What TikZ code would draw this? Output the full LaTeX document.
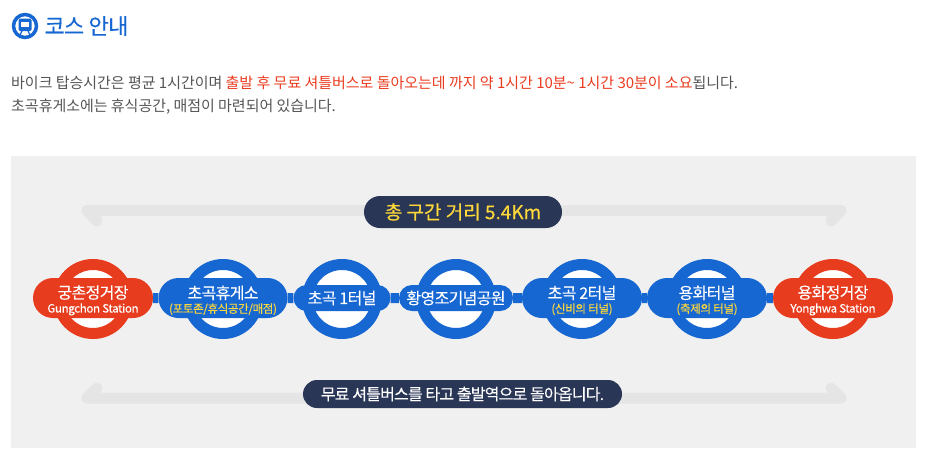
\documentclass[tikz,border=0pt]{standalone}
\usepackage{fontspec}
\setmainfont{Noto Sans CJK KR}
\usetikzlibrary{positioning, shapes.misc, backgrounds}
\definecolor{routered}{HTML}{E83C1E}
\definecolor{routeblue}{HTML}{1767D2}
\definecolor{routenavy}{HTML}{2A3656}
\definecolor{bodygray}{HTML}{555555}
\definecolor{notered}{HTML}{EA3C20}
\definecolor{subyellow}{HTML}{FFD83A}
\newcommand{\topline}[1]{\rule{0pt}{18pt}#1}
\newcommand{\subline}[1]{{\fontsize{11.5}{12}\selectfont\addfontfeatures{LetterSpace=-3,FakeBold=0.15}#1}}

\begin{document}
\begin{tikzpicture}[
    x=1pt, y=-1pt,
    node distance=40pt,
    ring/.style={circle, draw=#1, line width=11pt, fill=white, minimum size=69pt, inner sep=0pt},
    pill/.style={rounded rectangle, fill=#1, text=white, inner sep=0pt, minimum height=40pt, minimum width=120pt, align=center, font=\fontsize{16}{17}\selectfont\addfontfeatures{LetterSpace=-4,FakeBold=0.2}},
    slim/.style={minimum height=26pt},
    routeline/.style={routeblue, line width=10pt},
    backarrow/.style={draw=black!10, line width=11pt, line cap=round, line join=round},
    banner/.style={rounded rectangle, fill=routenavy, inner sep=0pt, align=center},
    bodytext/.style={anchor=west, inner sep=0pt, text=bodygray, font=\fontsize{15}{17}\selectfont\addfontfeatures{LetterSpace=-0.2}}
]
\useasboundingbox (0,0) rectangle (926,459);

% Heading
\node[circle, draw=routeblue, line width=3.5pt, fill=white, minimum size=23pt, inner sep=0pt] (icon) at (25,26) {};
\fill[routeblue, rounded corners=1.5pt] (18.5,18.5) rectangle (31.5,31);
\fill[white] (21,22) rectangle (29,26.5);
\draw[routeblue, line width=1.2pt] (20,35) -- (22,31) (30,35) -- (28,31);
\node[anchor=west, inner sep=0pt, text=routeblue, font=\fontsize{22}{24}\selectfont\addfontfeatures{LetterSpace=-3,FakeBold=0.2}, right=6pt of icon] (heading) {코스 안내};

% Intro text
\node[bodytext] (intro1) at (11,83) {바이크 탑승시간은 평균 1시간이며 \textcolor{notered}{출발 후 무료 셔틀버스로 돌아오는데 까지 약 1시간 10분\textasciitilde{} 1시간 30분이 소요}됩니다.};
\node[bodytext] (intro2) at (11,107) {초곡휴게소에는 휴식공간, 매점이 마련되어 있습니다.};

% Stations
\node[ring=routered] (ring1) at (93,299) {};
\node[ring=routeblue, right=50pt of ring1] (ring2) {};
\node[ring=routeblue, right=39pt of ring2] (ring3) {};
\node[ring=routeblue, right=34pt of ring3] (ring4) {};
\node[ring=routeblue, right=46pt of ring4] (ring5) {};
\node[ring=routeblue, right=45pt of ring5] (ring6) {};
\node[ring=routered, right=46pt of ring6] (ring7) {};

\node[pill=routered, yshift=1pt] (gungchon) at (ring1) {\topline{궁촌정거장}\\[-3pt]\subline{Gungchon Station}};
\node[pill=routeblue, minimum width=129pt, yshift=1pt] (rest) at (ring2) {\topline{초곡휴게소}\\[-3pt]\subline{\color{subyellow}(포토존/휴식공간/매점)}};
\node[pill=routeblue, slim, minimum width=97pt, yshift=1pt] (tunnel1) at (ring3) {초곡 1터널};
\node[pill=routeblue, slim, minimum width=114pt, yshift=1pt] (memorial) at (ring4) {황영조기념공원};
\node[pill=routeblue, yshift=1pt] (tunnel2) at (ring5) {\topline{초곡 2터널}\\[-3pt]\subline{\color{subyellow}(신비의 터널)}};
\node[pill=routeblue, yshift=1pt] (yonghwat) at (ring6) {\topline{용화터널}\\[-3pt]\subline{\color{subyellow}(축제의 터널)}};
\node[pill=routered, yshift=1pt] (yonghwa) at (ring7) {\topline{용화정거장}\\[-3pt]\subline{Yonghwa Station}};

% Banners
\node[banner, minimum width=198pt, minimum height=32pt, text=subyellow, font=\fontsize{19}{20}\selectfont\addfontfeatures{LetterSpace=0,FakeBold=0.3}] (total) at (463,212) {총 구간 거리 5.4Km};
\node[banner, minimum width=319pt, minimum height=28pt, text=white, font=\fontsize{16}{17}\selectfont\addfontfeatures{LetterSpace=-5,FakeBold=0.2}] (shuttle) at (462.5,394) {무료 셔틀버스를 타고 출발역으로 돌아옵니다.};

% Arrow ends
\coordinate (toptipL) at (97,221);
\coordinate (topendL) at (87,210.5);
\coordinate (topendR) at (841,210.5);
\coordinate (toptipR) at (831,221);
\coordinate (bottipL) at (97,388);
\coordinate (botendL) at (87,398);
\coordinate (botendR) at (841,398);
\coordinate (bottipR) at (831,388);

\begin{scope}[on background layer]
\fill[black!6] (11,156) rectangle (916,448);
\draw[backarrow] (toptipL) -- (topendL) -- (topendR) -- (toptipR);
\draw[backarrow] (bottipL) -- (botendL) -- (botendR) -- (bottipR);
\draw[routeline] (gungchon) -- (rest);
\draw[routeline] (rest) -- (tunnel1);
\draw[routeline] (tunnel1) -- (memorial);
\draw[routeline] (memorial) -- (tunnel2);
\draw[routeline] (tunnel2) -- (yonghwat);
\draw[routeline] (yonghwat) -- (yonghwa);
\end{scope}

\end{tikzpicture}
\end{document}
